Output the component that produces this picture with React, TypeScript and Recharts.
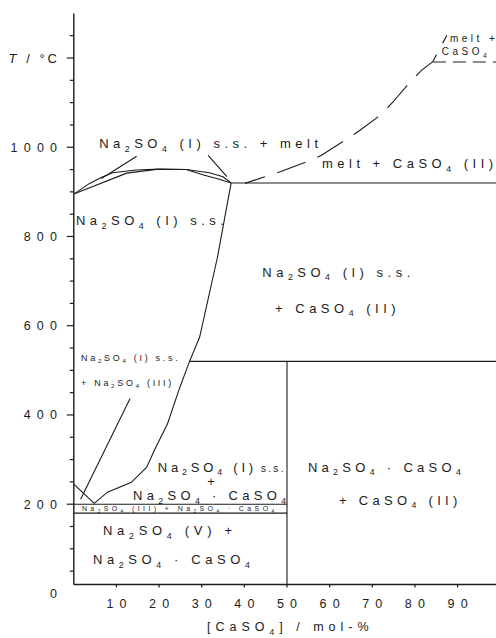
import { ComposedChart, Line, XAxis, YAxis, ReferenceDot } from "recharts";

const FONT = '"Liberation Sans", Arial, Helvetica, sans-serif';
const INK = "#1c1c1c";

// axes
const xTicks = [10, 20, 30, 40, 50, 60, 70, 80, 90];
const yTicks = [
  20, 50, 100, 150, 200, 250, 300, 350, 400, 450, 500, 550, 600, 650, 700,
  750, 800, 850, 900, 950, 1000, 1050, 1100, 1150, 1200, 1250,
];
const yTickLabels: Record<number, string> = {
  20: "0",
  200: "200",
  400: "400",
  600: "600",
  800: "800",
  1000: "1000",
};

// phase boundaries, [mol-% CaSO4, T in °C]
const liquidusNa = [
  [0, 895], [3.7, 919], [6.8, 934], [9.1, 943], [14.6, 949], [20.1, 951],
  [26.4, 950], [31.8, 943], [35, 934], [36.9, 920],
];
const solidusNa = [
  [0, 895], [12.4, 942], [19.4, 950.5], [26.4, 950], [30.4, 938], [33.5, 930],
  [36.9, 920],
];
const eutectic920 = [[36.9, 920], [100, 920]];
const solvus = [
  [36.9, 920], [33.7, 754], [29.5, 574], [27.1, 519], [24.8, 460], [22, 381],
  [18.9, 321], [17.1, 283], [13.5, 249], [7.9, 227], [4.8, 202],
];
const naIIIline = [[0, 245], [4.8, 202]];
const iso200 = [[0, 200], [50, 200]];
const iso180 = [[0, 180], [50, 180]];
const double50 = [[50, 20], [50, 520]];
const iso520 = [[27.1, 520], [100, 520]];
const liquidusCa = [
  [40.15, 919], [44.8, 934], [48.4, 945], [55.4, 970], [58.1, 982],
  [64.8, 1023], [67.1, 1038], [72.2, 1074], [74.9, 1102], [79.2, 1150],
  [81.6, 1173], [84.2, 1192], [87.5, 1251],
];
const caTransition = [[84.2, 1191], [100, 1191]];
const leaderA = [[14.75, 980], [6.5, 930]];
const leaderB = [[31.5, 982], [35.9, 934]];
const leaderC = [[13.2, 437], [1.6, 211]];

// region labels: text ("_n" = subscript), anchor point in data units
const labels = [
  { text: "Na_2SO_4 (I) s.s. + melt", x: 5.95, t: 998, size: 13, ls: 4.5 },
  { text: "melt + CaSO_4 (II)", x: 58.2, t: 953, size: 13, ls: 4.5 },
  { text: "melt +", x: 88.2, t: 1236, size: 10, ls: 3.5 },
  { text: "CaSO_4 (I)", x: 86.3, t: 1206, size: 10, ls: 3.5 },
  { text: "Na_2SO_4 (I) s.s.", x: 0.5, t: 826, size: 13, ls: 4.5 },
  { text: "Na_2SO_4 (I) s.s.", x: 44.2, t: 710, size: 13, ls: 4.5 },
  { text: "+ CaSO_4 (II)", x: 47.2, t: 629, size: 13, ls: 4.5 },
  { text: "Na_2SO_4 (I) s.s.", x: 1.7, t: 521, size: 9, ls: 2.7 },
  { text: "+ Na_2SO_4 (III)", x: 1.7, t: 465, size: 9, ls: 2.7 },
  { text: "Na_2SO_4 (I)", x: 19.7, t: 273, size: 13, ls: 3.8 },
  { text: "s.s.", x: 43.9, t: 273, size: 10, ls: 2.3 },
  { text: "+", x: 31.3, t: 241, size: 13, ls: 0 },
  { text: "Na_2SO_4 · CaSO_4", x: 13.9, t: 209, size: 13, ls: 4.3 },
  { text: "Na_2SO_4 (III) + Na_2SO_4 · CaSO_4", x: 1.9, t: 185, size: 7, ls: 3.4 },
  { text: "Na_2SO_4 (V) +", x: 6.85, t: 130, size: 13, ls: 4.7 },
  { text: "Na_2SO_4 · CaSO_4", x: 4.5, t: 65, size: 13, ls: 4.6 },
  { text: "Na_2SO_4 · CaSO_4", x: 54.9, t: 273, size: 13, ls: 4.3 },
  { text: "+ CaSO_4 (II)", x: 62.2, t: 199, size: 13, ls: 4.3 },
];

const toPts = (arr: number[][]) => arr.map(([x, t]) => ({ x, t }));

function formula(text: string, size: number) {
  const parts = text.split(/_(\d)/);
  const drop = size * 0.28;
  const out: any[] = [];
  let low = false;
  parts.forEach((p, i) => {
    if (p === "") return;
    if (i % 2 === 1) {
      out.push(
        <tspan key={i} fontSize={size * 0.68} dy={low ? 0 : drop}>
          {p}
        </tspan>
      );
      low = true;
    } else {
      out.push(
        <tspan key={i} dy={low ? -drop : 0}>
          {p}
        </tspan>
      );
      low = false;
    }
  });
  return out;
}

const TICK_LS = 6.2;

const YTick = (props: any) => {
  const { x, y, payload } = props;
  const v = payload.value;
  const major = v % 200 === 0;
  const label = yTickLabels[v];
  return (
    <g>
      {v !== 20 && (
        <line x1={x - (major ? 7 : 4)} x2={x} y1={y} y2={y} stroke={INK} strokeWidth={1.2} />
      )}
      {label && (
        <text
          x={57 + TICK_LS}
          y={y + (v === 20 ? 13.5 : 4.5)}
          textAnchor="end"
          fontSize={12.5}
          fontFamily={FONT}
          fill={INK}
          style={{ letterSpacing: TICK_LS }}
        >
          {label}
        </text>
      )}
      {v === 1200 && (
        <text
          x={57 + 3}
          y={y + 4.5}
          textAnchor="end"
          fontSize={13}
          fontFamily={FONT}
          fill={INK}
          style={{ letterSpacing: 3, whiteSpace: "pre" }}
        >
          <tspan fontStyle="italic">T</tspan>
          <tspan> / °C</tspan>
        </text>
      )}
    </g>
  );
};

const XTick = (props: any) => {
  const { x, y, payload } = props;
  return (
    <g>
      <line x1={x} x2={x} y1={y} y2={y + 3} stroke={INK} strokeWidth={1.2} />
      <text
        x={x + TICK_LS / 2}
        y={y + 23.5}
        textAnchor="middle"
        fontSize={12.5}
        fontFamily={FONT}
        fill={INK}
        style={{ letterSpacing: TICK_LS }}
      >
        {payload.value}
      </text>
    </g>
  );
};

const TopTick = (props: any) => {
  const { x, y } = props;
  return <line x1={x} x2={x} y1={y} y2={y + 3} stroke={INK} strokeWidth={1.2} />;
};

const seg = (data: number[][], key: string, dash?: string, offset?: number) => (
  <Line
    key={key}
    data={toPts(data)}
    dataKey="t"
    type="linear"
    stroke={INK}
    strokeWidth={1.1}
    strokeDasharray={dash}
    strokeDashoffset={offset}
    dot={false}
    activeDot={false}
    isAnimationActive={false}
    legendType="none"
  />
);

export default function App() {
  return (
    <div
      style={{
        position: "fixed",
        left: 0,
        top: 0,
        width: 496,
        height: 638,
        overflow: "hidden",
        background: "#fff",
      }}
    >
      <ComposedChart
        width={528}
        height={638}
        margin={{ top: 13.4, right: 27.8, bottom: 0, left: 0 }}
      >
        <XAxis
          type="number"
          dataKey="x"
          domain={[0, 100]}
          ticks={xTicks}
          allowDataOverflow
          height={53.5}
          tickSize={0}
          tickMargin={0}
          tickLine={false}
          tick={<XTick />}
          axisLine={{ stroke: INK, strokeWidth: 1.4 }}
        />
        <XAxis
          xAxisId="top"
          orientation="top"
          type="number"
          dataKey="x"
          domain={[0, 100]}
          ticks={xTicks}
          allowDataOverflow
          height={0}
          tickSize={0}
          tickMargin={0}
          tickLine={false}
          tick={<TopTick />}
          axisLine={{ stroke: INK, strokeWidth: 1.4 }}
        />
        <YAxis
          type="number"
          domain={[20, 1300]}
          ticks={yTicks}
          allowDataOverflow
          width={73.8}
          tickSize={0}
          tickMargin={0}
          tickLine={false}
          tick={<YTick />}
          interval={0}
          axisLine={{ stroke: INK, strokeWidth: 1.4 }}
        />
        {seg(liquidusNa, "liqNa")}
        {seg(solidusNa, "solNa")}
        {seg(eutectic920, "eut")}
        {seg(solvus, "solvus")}
        {seg(naIIIline, "naIII")}
        {seg(iso200, "i200")}
        {seg(iso180, "i180")}
        {seg(double50, "v50")}
        {seg(iso520, "i520")}
        {seg(liquidusCa, "liqCa", "30 13", 9)}
        {seg(caTransition, "caT", "13 7")}
        {seg(leaderA, "ldA")}
        {seg(leaderB, "ldB")}
        {seg(leaderC, "ldC")}
        {labels.map((l, i) => (
          <ReferenceDot
            key={"lb" + i}
            x={l.x}
            y={l.t}
            r={0}
            ifOverflow="visible"
            shape={(p: any) => (
              <text
                x={p.cx}
                y={p.cy}
                fontSize={l.size}
                fontFamily={FONT}
                fill={INK}
                style={{ letterSpacing: l.ls, whiteSpace: "pre" }}
              >
                {formula(l.text, l.size)}
              </text>
            )}
          />
        ))}
        <ReferenceDot
          x={50.2}
          y={20}
          r={0}
          ifOverflow="visible"
          shape={(p: any) => (
            <text
              x={p.cx + 2.5}
              y={p.cy + 46.5}
              textAnchor="middle"
              fontSize={12.5}
              fontFamily={FONT}
              fill={INK}
              style={{ letterSpacing: 5, whiteSpace: "pre" }}
            >
              {formula("[CaSO_4] / mol-%", 12.5)}
            </text>
          )}
        />
      </ComposedChart>
    </div>
  );
}
